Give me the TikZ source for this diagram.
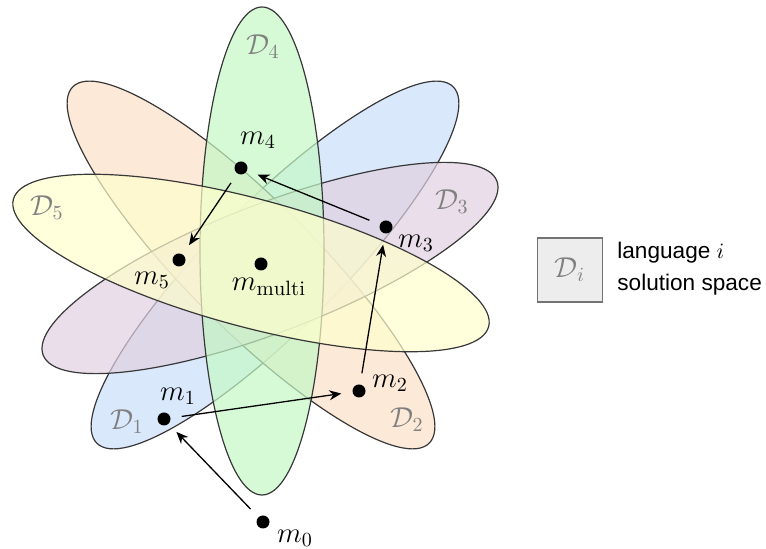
\documentclass[tikz,border=0pt]{standalone}
\usepackage{fontspec}
\newfontfamily\legendfont{Liberation Sans}
\usetikzlibrary{arrows.meta}
\definecolor{cblue}{RGB}{202,222,251}
\definecolor{corange}{RGB}{252,224,199}
\definecolor{cpurple}{RGB}{224,208,224}
\definecolor{cgreen}{RGB}{197,248,197}
\definecolor{cyellow}{RGB}{255,255,205}
\begin{document}
\begin{tikzpicture}[x=0.5pt,y=-0.5pt,
  region/.style={draw=black!78, line width=0.6pt, fill opacity=0.7},
  dot/.style={circle, fill=black, inner sep=0pt, minimum size=6.5pt},
  lbl/.style={inner sep=0pt, font=\fontsize{14.8}{17}\selectfont},
  dlbl/.style={lbl, text=black!50},
  arr/.style={-{Stealth[length=6pt,width=5pt]}, line width=0.65pt, shorten <=5.5pt, shorten >=5.5pt}]
\useasboundingbox (0,0) rectangle (766,549);
% solution spaces
\filldraw[region, fill=cblue, rotate around={45:(275,265)}] (275,265) ellipse [x radius=252, y radius=64];
\filldraw[region, fill=corange, rotate around={-45:(251,265)}] (251,265) ellipse [x radius=252, y radius=64];
\filldraw[region, fill=cpurple, rotate around={21:(270,268)}] (270,268) ellipse [x radius=243, y radius=64];
\filldraw[region, fill=cgreen] (262,251) ellipse [x radius=62, y radius=244];
\filldraw[region, fill=cyellow, rotate around={-15:(251,263)}] (251,263) ellipse [x radius=246, y radius=64];
% region labels
\node[dlbl] (d1) at (127,422) {$\mathcal{D}_1$};
\node[dlbl] (d2) at (407,420) {$\mathcal{D}_2$};
\node[dlbl] (d3) at (452,202) {$\mathcal{D}_3$};
\node[dlbl] (d4) at (263,47) {$\mathcal{D}_4$};
\node[dlbl] (d5) at (47,208) {$\mathcal{D}_5$};
% models
\node[dot] (m0) at (263,522) {};
\node[dot] (m1) at (164,419) {};
\node[dot] (m2) at (359,391) {};
\node[dot] (m3) at (386,227) {};
\node[dot] (m4) at (241,168) {};
\node[dot] (m5) at (179,260) {};
\node[dot] (mm) at (261,264) {};
\node[lbl] (l0) at (295,538) {$m_0$};
\node[lbl] (l1) at (178,396) {$m_1$};
\node[lbl] (l2) at (390,383) {$m_2$};
\node[lbl] (l3) at (416,243) {$m_3$};
\node[lbl] (l4) at (258,140) {$m_4$};
\node[lbl] (l5) at (152,280) {$m_5$};
\node[lbl] (lm) at (269,287) {$m_{\mathrm{multi}}$};
% path
\draw[arr] (m0) -- (m1);
\draw[arr] (m1) -- (m2);
\draw[arr] (m2) -- (m3);
\draw[arr] (m3) -- (m4);
\draw[arr] (m4) -- (m5);
% legend
\node[draw=black!55, fill=black!7, line width=0.6pt, minimum width=32.5pt, minimum height=32pt, inner sep=0pt, text=black!50, font=\fontsize{14.8}{17}\selectfont] (leg) at (570,270) {$\mathcal{D}_i$};
\node[anchor=west, align=left, inner sep=0pt, font=\legendfont\fontsize{11.3}{16}\selectfont] (legtext) at (617,269) {language $i$\\solution space};
\end{tikzpicture}
\end{document}
